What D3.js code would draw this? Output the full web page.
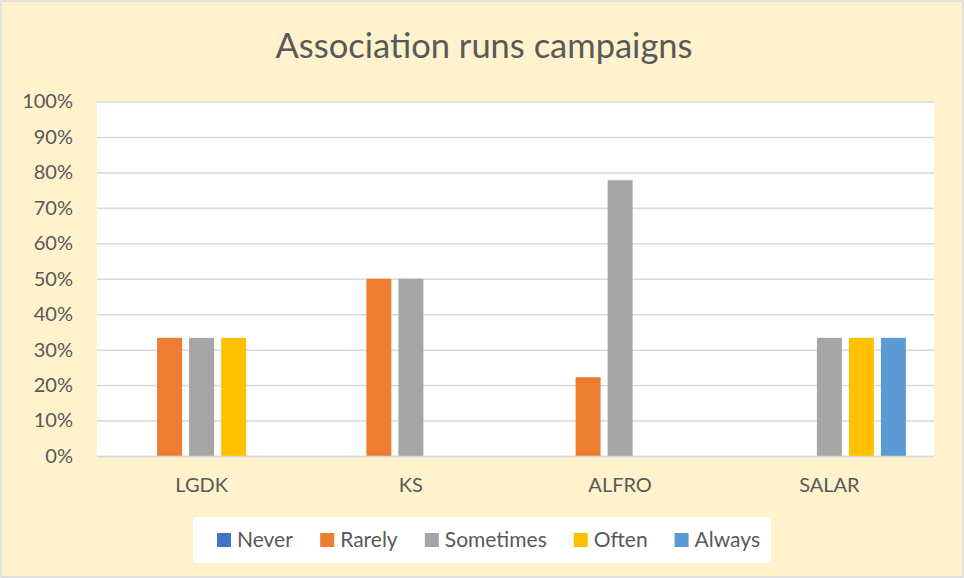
<!DOCTYPE html>
<html><head><meta charset="utf-8">
<script src="https://cdn.jsdelivr.net/npm/d3@7"></script>
<style>
html,body{margin:0;padding:0;background:#fff;}
svg{display:block;font-family:Lato,"Open Sans",sans-serif;}
</style></head>
<body>
<svg id="chart" width="964" height="578"></svg>
<script>
const title = "Association runs campaigns";
const categories = ["LGDK", "KS", "ALFRO", "SALAR"];
const seriesNames = ["Never", "Rarely", "Sometimes", "Often", "Always"];
const seriesColors = ["#4472C4", "#ED7D31", "#A5A5A5", "#FFC000", "#5B9BD5"];
const never     = [0, 0, 0, 0];
const rarely    = [0.3333, 0.5, 0.2222, 0];
const sometimes = [0.3333, 0.5, 0.7778, 0.3333];
const often     = [0.3333, 0, 0, 0.3333];
const always    = [0, 0, 0, 0.3333];
const yTicks = [0, 0.1, 0.2, 0.3, 0.4, 0.5, 0.6, 0.7, 0.8, 0.9, 1.0];

const seriesValues = [never, rarely, sometimes, often, always];

const svg = d3.select("#chart");
const W = 964, H = 578;
const textColor = "#595959";

// background
svg.append("rect").attr("x", 1).attr("y", 1).attr("width", W - 2).attr("height", H - 2)
  .attr("fill", "#FFF2CC").attr("stroke", "#D9D9D9").attr("stroke-width", 1.5);

const plot = {left: 97, right: 934, top: 101.5, bottom: 456};

svg.append("rect").attr("x", plot.left).attr("y", plot.top)
  .attr("width", plot.right - plot.left).attr("height", plot.bottom - plot.top).attr("fill", "#fff");

const y = d3.scaleLinear().domain([0, 1]).range([plot.bottom, plot.top]);
const x0 = d3.scaleBand().domain(categories).range([plot.left, plot.right])
  .paddingInner(0.235).paddingOuter(0.1175);
const x1 = d3.scaleBand().domain(seriesNames).range([0, x0.bandwidth()])
  .paddingInner(0.22).paddingOuter(0.11);

// gridlines
const yAxis = d3.axisLeft(y).tickValues(yTicks).tickFormat(d3.format(".0%"))
  .tickSize(-(plot.right - plot.left)).tickPadding(24);
const gy = svg.append("g").attr("transform", `translate(${plot.left},0)`).call(yAxis);
gy.select(".domain").remove();
gy.selectAll(".tick line").attr("stroke", "#D9D9D9").attr("stroke-width", 1.5);
gy.selectAll(".tick text").attr("fill", textColor).style("font-size", "20px")
  .style("font-family", "Lato, sans-serif");

// bars
const groups = svg.append("g").selectAll("g").data(categories).join("g")
  .attr("transform", d => `translate(${x0(d)},0)`);
groups.selectAll("rect")
  .data((c, ci) => seriesNames.map((s, si) => ({s, si, v: seriesValues[si][ci]})))
  .join("rect")
  .attr("x", d => x1(d.s))
  .attr("width", x1.bandwidth())
  .attr("y", d => y(d.v))
  .attr("height", d => y(0) - y(d.v))
  .attr("fill", d => seriesColors[d.si]);

// x axis
const xAxis = d3.axisBottom(x0).tickSize(0).tickPadding(22);
const gx = svg.append("g").attr("transform", `translate(0,${plot.bottom})`).call(xAxis);
gx.select(".domain").attr("stroke", "#D9D9D9").attr("stroke-width", 1.5);
gx.selectAll(".tick text").attr("fill", textColor).style("font-size", "20px")
  .style("font-family", "Lato, sans-serif");

// title
svg.append("text").attr("x", 484).attr("y", 58).attr("text-anchor", "middle")
  .attr("fill", textColor).style("font-size", "34.5px").style("font-family", "Lato, sans-serif")
  .text(title);

// legend
const legBox = {x: 193, y: 517, w: 578, h: 46};
svg.append("rect").attr("x", legBox.x).attr("y", legBox.y).attr("width", legBox.w)
  .attr("height", legBox.h).attr("fill", "#fff");
const lg = svg.append("g");
const items = lg.selectAll("g").data(seriesNames).join("g");
items.append("rect").attr("width", 14).attr("height", 14).attr("y", -7)
  .attr("fill", (d, i) => seriesColors[i]);
items.append("text").attr("x", 20).attr("y", 0).attr("dy", "0.35em")
  .attr("fill", textColor).style("font-size", "21px").style("font-family", "Lato, sans-serif")
  .text(d => d);
let widths = [];
items.each(function() { widths.push(this.getBBox().width); });
const span = 543;
const gap = (span - d3.sum(widths)) / (widths.length - 1);
let cx = 217;
items.attr("transform", (d, i) => {
  const t = `translate(${cx},${legBox.y + legBox.h / 2})`;
  cx += widths[i] + gap;
  return t;
});
</script>
</body></html>
